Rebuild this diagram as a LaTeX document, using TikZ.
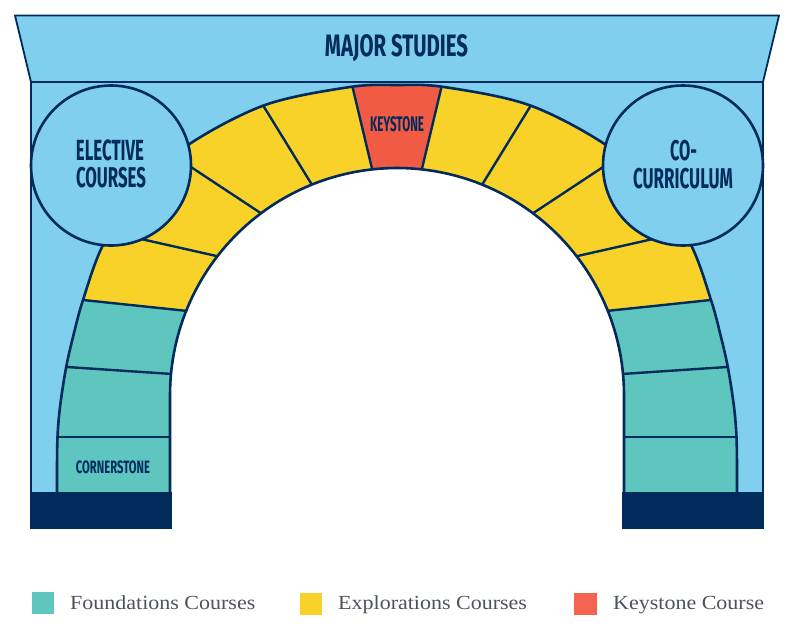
\documentclass[tikz,border=0pt]{standalone}
\usepackage{graphicx}
\usepackage{fontspec}
\setmainfont{Liberation Serif}
\newfontfamily\condfont{Fira Sans}
\newfontfamily\legfont[FakeStretch=1.1]{Liberation Serif}
\definecolor{skyb}{HTML}{80CFEE}
\definecolor{navy}{HTML}{002B5C}
\definecolor{yellowc}{HTML}{F9D229}
\definecolor{tealc}{HTML}{5EC5BF}
\definecolor{redc}{HTML}{F15B44}
\definecolor{legred}{HTML}{F4634F}
\definecolor{leggray}{HTML}{4D5260}
\newcommand{\fitlbl}[3]{\resizebox{#1pt}{#2pt}{\condfont\bfseries #3}}
\tikzset{
  lbl/.style={inner sep=0pt, text=navy},
  legtext/.style={inner sep=0pt, anchor=base west, text=leggray, font=\legfont\fontsize{20}{24}\selectfont},
  divider/.style={draw=navy, line width=2.4pt},
  edge/.style={draw=navy, line width=2.6pt},
  medal/.style={circle, draw=navy, fill=skyb, line width=2.6pt, minimum size=160pt, inner sep=0pt}
}
\def\outercurve{(57,492) -- plot[smooth, tension=0.55] coordinates {(57,470) (57.5,437) (60,407) (66,368) (73.5,335) (83,300) (103,245) (139,190) (188,145) (265,105) (350,87) (397,85) (444,87) (529,105) (606,145) (655,190) (691,245) (711,300) (720.5,335) (728,368) (734,407) (736.5,437) (737,470)} -- (737,492)}
\def\innercurve{(170,492) -- (170,395) -- plot[domain=180:360, samples=120] ({397+227*cos(\x)},{395+227*sin(\x)}) -- (624,492)}
\def\openingfill{(170,496) -- (170,395) -- plot[domain=180:360, samples=120] ({397+227*cos(\x)},{395+227*sin(\x)}) -- (624,496) -- cycle}
\begin{document}
\begin{tikzpicture}[x=1pt, y=-1pt, line join=round]
\useasboundingbox (0,0) rectangle (794,630);
\fill[white] (0,0) rectangle (794,630);
% capital band
\filldraw[fill=skyb, draw=navy, line width=1.8pt] (15,15.5) -- (779,15.5) -- (763,82) -- (31,82) -- cycle;
% body
\fill[skyb] (31,82) rectangle (763,492);
\draw[navy, line width=2pt] (31,82) -- (31,492);
\draw[navy, line width=2pt] (763,82) -- (763,492);
\draw[navy, line width=2.6pt] (31,82) -- (763,82);
% arch stones
\begin{scope}
\clip \outercurve -- cycle;
\fill[yellowc] (0,0) rectangle (794,500);
\fill[tealc] (20,495) -- (20,293.4) -- (203,312.6) -- (203,495) -- cycle;
\fill[tealc] (774,495) -- (774,293.4) -- (591,312.6) -- (591,495) -- cycle;
\fill[redc] (349.9,76) -- (374,177) -- (420,177) -- (444.1,76) -- cycle;
\draw[divider] (40,437) -- (190,437);
\draw[divider] (52,366) -- (187,375);
\draw[divider] (68,298.4) -- (203,312.6);
\draw[divider] (90,227.5) -- (236,260.4);
\draw[divider] (150,140) -- (275,222.5);
\draw[divider] (251.6,86.7) -- (318,194.6);
\draw[divider] (349.9,76) -- (374,177);
\draw[divider] (444.1,76) -- (420,177);
\draw[divider] (542.4,86.7) -- (476,194.6);
\draw[divider] (644,140) -- (519,222.5);
\draw[divider] (704,227.5) -- (558,260.4);
\draw[divider] (726,298.4) -- (591,312.6);
\draw[divider] (742,366) -- (607,375);
\draw[divider] (754,437) -- (604,437);
\end{scope}
% opening
\fill[white] \openingfill;
\draw[edge] \outercurve;
\draw[edge] \innercurve;
% plinths
\fill[navy] (30,492) rectangle (172,529);
\fill[navy] (622,492) rectangle (764,529);
% medallions
\node[medal] (elective) at (111,165.5) {};
\node[medal] (cocurr) at (683,165.5) {};
% labels
\node[lbl] (title) at (396.5,48) {\fitlbl{143}{22}{MAJOR STUDIES}};
\node[lbl] (el1) at (110,150.4) {\fitlbl{68}{20.7}{ELECTIVE}};
\node[lbl] (el2) at (111,178) {\fitlbl{70}{20.3}{COURSES}};
\node[lbl] (co1) at (683.5,151) {\fitlbl{27}{20.3}{CO-}};
\node[lbl] (co2) at (683,179) {\fitlbl{100}{20.3}{CURRICULUM}};
\node[lbl] (key) at (397,124.5) {\fitlbl{54}{15}{KEYSTONE}};
\node[lbl] (corner) at (113,467) {\fitlbl{74}{12.7}{CORNERSTONE}};
% legend
\fill[tealc] (31.7,592.3) rectangle (54.3,614.3);
\fill[yellowc] (300,592.5) rectangle (322,614.5);
\fill[legred] (574,592.5) rectangle (597,614.5);
\node[legtext] (leg1) at (70,609.3) {Foundations Courses};
\node[legtext] (leg2) at (338,609.3) {Explorations Courses};
\node[legtext] (leg3) at (613,609.3) {Keystone Course};
\end{tikzpicture}
\end{document}
